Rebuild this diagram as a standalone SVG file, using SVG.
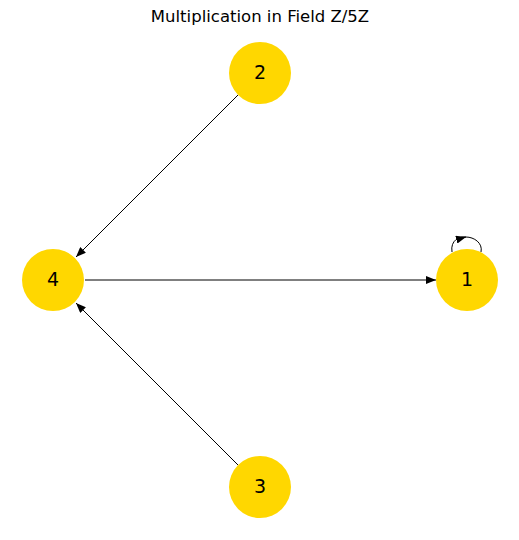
<svg xmlns="http://www.w3.org/2000/svg" width="519" height="540" viewBox="0 0 519 540">
<style>
.node circle{fill:#ffd700;stroke:none}
.node text{font-family:"DejaVu Sans",sans-serif;font-size:19px;fill:#000;text-anchor:middle;dominant-baseline:central}
.edges path{fill:none;stroke:#000;stroke-width:1}
.title{font-family:"DejaVu Sans",sans-serif;font-size:16.5px;text-anchor:middle;fill:#000}
</style>
<defs>
<marker id="arr" viewBox="0 0 10 8" refX="10" refY="4" markerWidth="10" markerHeight="8" markerUnits="userSpaceOnUse" orient="auto">
<path d="M0,0 L10,4 L0,8 Z" fill="#000"/>
</marker>
</defs>
<rect width="519" height="540" fill="#fff"/>
<text class="title" x="260" y="22">Multiplication in Field Z/5Z</text>
<g id="edges" class="edges">
<path d="M238,95 L76,257" marker-end="url(#arr)"/>
<path d="M238,465 L76,303" marker-end="url(#arr)"/>
<path d="M85,280 L436,280" marker-end="url(#arr)"/>
<path d="M452,252 C450,240 460,236 466,237 C474,237 483,243 481,252" />
<path d="M457,239.5 L466,237" marker-end="url(#arr)"/>
</g>
<g id="node-2" class="node"><circle cx="260" cy="73" r="31"/><text x="260" y="72">2</text></g>
<g id="node-4" class="node"><circle cx="53" cy="280" r="31"/><text x="53" y="279">4</text></g>
<g id="node-1" class="node"><circle cx="467" cy="280" r="31"/><text x="467" y="279">1</text></g>
<g id="node-3" class="node"><circle cx="260" cy="487" r="31"/><text x="260" y="486">3</text></g>
</svg>
